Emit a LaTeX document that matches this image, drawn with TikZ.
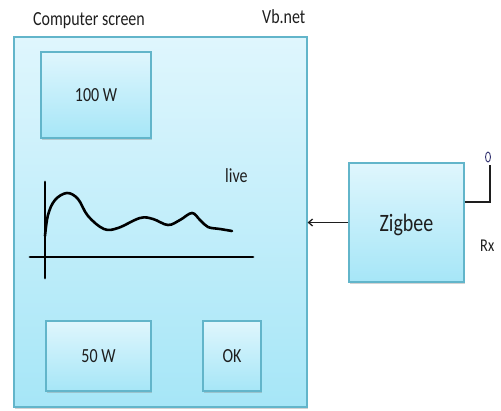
\documentclass[tikz,border=0pt]{standalone}
\usepackage{fontspec}
\setmainfont[FakeStretch=0.8]{Carlito}
\usetikzlibrary{shadows,arrows.meta,shapes.geometric}
\definecolor{bord}{HTML}{62B5CA}
\definecolor{ftop}{HTML}{DFF6FD}
\definecolor{fbot}{HTML}{A6E6F7}
\definecolor{txt}{HTML}{1E1E1E}
\tikzset{
  panel/.style={draw=bord, line width=1.2pt, top color=ftop, bottom color=fbot,
    drop shadow={opacity=0.35, shadow xshift=1pt, shadow yshift=-2pt},
    text=txt, inner sep=0pt, font=\fontsize{20}{22}\selectfont},
  lbl/.style={text=txt, inner sep=0pt, font=\fontsize{20}{22}\selectfont},
  wire/.style={draw=txt, line width=1.3pt},
  plotline/.style={line width=2.8pt, black, line cap=round},
}
\begin{document}
\begin{tikzpicture}[x=1pt,y=-1pt]
\useasboundingbox (0,0) rectangle (501,410);
% main screen
\node[panel, minimum width=293pt, minimum height=370pt] (screen) at (160.5,222) {};
\node[lbl, anchor=base west] (title) at (33,25) {Computer screen};
\node[lbl, anchor=base west] (vb) at (262,23) {Vb.net};
% buttons
\node[panel, minimum width=110pt, minimum height=86pt] (b100) at (96,95) {100 W};
\node[panel, minimum width=105pt, minimum height=70pt] (b50) at (98.5,356) {50 W};
\node[panel, minimum width=58pt, minimum height=70pt] (bok) at (232,356) {OK};
\node[lbl, anchor=base west] (live) at (225,182) {live};
% graph
\coordinate (ya) at (45,182);
\coordinate (yb) at (45,278);
\coordinate (xa) at (30,257);
\coordinate (xb) at (253,257);
\draw[plotline] (ya) -- (yb);
\draw[plotline] (xa) -- (xb);
\draw[plotline, line width=2.6pt] plot[smooth, tension=0.6] coordinates {
  (45,236) (48,215) (55,200) (67,193) (78,199) (88,216) (104,229) (118,228)
  (140,218) (153,219) (168,225) (180,220) (192,213) (200,220) (208,227)
  (220,229) (232,231)};
% zigbee
\node[panel, minimum width=115pt, minimum height=119pt, text depth=0pt,
  font=\fontsize{25}{28}\selectfont] (zig) at (406.5,222.5) {Zigbee};
\draw[wire, -{Straight Barb[length=4pt,width=7pt]}] (zig.west) -- (zig.west -| screen.east);
% antenna
\coordinate (ant1) at (490,202);
\coordinate (ant2) at (490,165);
\draw[wire] (zig.east |- ant1) -- (ant1) -- (ant2);
\node[draw=black!60!blue!60!gray, line width=0.9pt, ellipse, minimum width=5pt,
  minimum height=10pt, inner sep=0pt] (tip) at (488,157) {};
\node[lbl, anchor=base west, font=\fontsize{18}{20}\selectfont] (rx) at (480,251) {Rx};
\end{tikzpicture}
\end{document}
